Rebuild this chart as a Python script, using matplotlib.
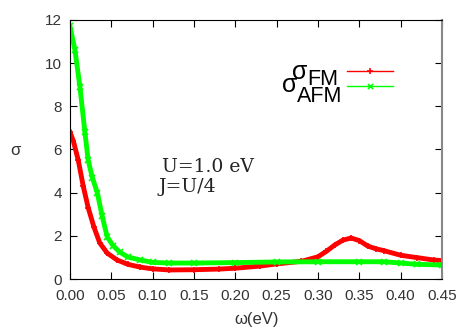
import numpy as np
import matplotlib
matplotlib.use("Agg")
import matplotlib.pyplot as plt

# valori
omega_fm = [0.0, 0.004, 0.01, 0.016, 0.022, 0.029, 0.036, 0.045, 0.057, 0.07, 0.085, 0.10,
            0.12, 0.15, 0.18, 0.20, 0.23, 0.25, 0.28, 0.30, 0.31, 0.32, 0.33, 0.34,
            0.35, 0.36, 0.37, 0.38, 0.40, 0.42, 0.44, 0.45]
sigma_fm = [6.8, 6.4, 5.5, 4.3, 3.3, 2.4, 1.67, 1.2, 0.88, 0.68, 0.55, 0.47,
            0.42, 0.43, 0.46, 0.5, 0.6, 0.7, 0.82, 1.03, 1.28, 1.57, 1.8, 1.9,
            1.78, 1.53, 1.4, 1.31, 1.1, 0.99, 0.88, 0.85]

omega_afm = [0.0, 0.006, 0.012, 0.018, 0.022, 0.027, 0.033, 0.039, 0.045, 0.052, 0.06, 0.07,
             0.085, 0.10, 0.12, 0.15, 0.20, 0.25, 0.30, 0.35, 0.38, 0.40, 0.42, 0.45]
sigma_afm = [11.7, 10.6, 8.9, 6.8, 5.5, 4.7, 4.0, 2.9, 1.95, 1.55, 1.25, 1.02,
             0.88, 0.77, 0.74, 0.74, 0.76, 0.79, 0.8, 0.8, 0.8, 0.74, 0.68, 0.65]

xticks = [0.00, 0.05, 0.10, 0.15, 0.20, 0.25, 0.30, 0.35, 0.40, 0.45]
yticks = [0, 2, 4, 6, 8, 10, 12]

plt.rcParams["font.family"] = ["Liberation Sans", "DejaVu Sans"]

fig = plt.figure(figsize=(4.74, 3.32), dpi=100)
ax = fig.add_axes([0.1477, 0.1596, 0.7848, 0.7802])

l_fm, = ax.plot(omega_fm, sigma_fm, "-", color="#ff0000", linewidth=3.5, marker="+",
                markersize=5, markeredgewidth=1.2)
l_afm, = ax.plot(omega_afm, sigma_afm, "-", color="#00ff00", linewidth=3.5, marker="x",
                 markersize=4, markeredgewidth=1.2)

ax.set_xlim(0, 0.45)
ax.set_ylim(0, 12)
ax.set_xticks(xticks)
ax.set_xticklabels([f"{v:.2f}" for v in xticks])
ax.set_yticks(yticks)
ax.tick_params(direction="in", top=True, right=True, labelsize=11,
               labelcolor="#333333", length=5)
ax.tick_params(axis="x", pad=7)
ax.tick_params(axis="y", pad=6)
ax.spines["right"].set_color("#888888")
ax.spines["right"].set_linewidth(1.5)

ax.set_xlabel("ω(eV)", fontsize=12, color="#333333", va="center")
ax.xaxis.set_label_coords(0.503, -0.158)
ax.set_ylabel("σ", fontsize=12, rotation=0, color="#333333", va="center")
ax.yaxis.set_label_coords(-0.148, 0.498)

ax.text(0.247, 0.413, "U=1.0 eV", transform=ax.transAxes, fontsize=13.5,
        family="DejaVu Serif", color="#222222", va="baseline")
ax.text(0.237, 0.336, "J=U/4", transform=ax.transAxes, fontsize=13.5,
        family="DejaVu Serif", color="#222222", va="baseline")

# legenda: solo i campioni di linea, le etichette a parte (stile gnuplot)
leg = ax.legend([l_fm, l_afm], ["", ""], loc="center", bbox_to_anchor=(0.806, 0.768),
                frameon=False, handlelength=3, handletextpad=0, borderpad=0,
                fontsize=11, labelspacing=0.05, numpoints=1, markerscale=0.9)
for h in leg.get_lines():
    h.set_linewidth(1.0)

ax.text(0.637, 0.772, "σ", transform=ax.transAxes, fontsize=18, ha="right", va="baseline")
ax.text(0.637, 0.749, "FM", transform=ax.transAxes, fontsize=15.5, ha="left", va="baseline")
ax.text(0.610, 0.722, "σ", transform=ax.transAxes, fontsize=18, ha="right", va="baseline")
ax.text(0.610, 0.683, "AFM", transform=ax.transAxes, fontsize=15.5, ha="left", va="baseline")

plt.savefig("out.png", dpi=100)
